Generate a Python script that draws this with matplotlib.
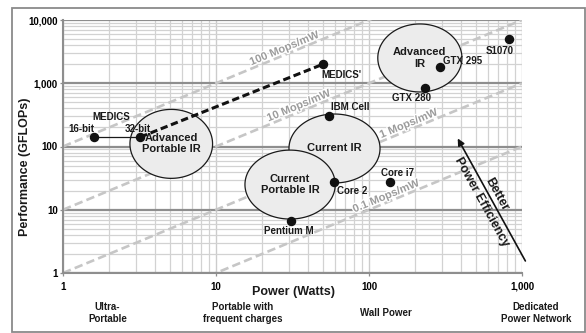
import numpy as np
import matplotlib
matplotlib.use("Agg")
import matplotlib.pyplot as plt
from matplotlib.patches import Rectangle
from matplotlib.transforms import blended_transform_factory
import matplotlib.patheffects as pe

plt.rcParams['font.family'] = ['Liberation Sans', 'DejaVu Sans']
plt.rcParams['font.weight'] = 'bold'

# ---- data -------------------------------------------------------------
point_names = ["16-bit", "32-bit", "MEDICS'", "S1070", "GTX 295", "GTX 280",
               "IBM Cell", "Core 2", "Core i7", "Pentium M"]
point_watts = [1.6, 3.2, 50, 820, 289, 232, 55, 59, 137, 31]
point_gflops = [141, 141, 2000, 4950, 1800, 845, 300, 27, 27, 6.7]
# label offsets (pixels) from each point
label_dx = [-13, -3, 18, -9, 23, -13, 21, 18, 8, -2]
label_dy = [8, 8, -11, -12, 6, -10, 9, -9, 9, -10]

region_names = ["Advanced\nPortable IR", "Current IR", "Current\nPortable IR", "Advanced\nIR"]
region_watts = [5.1, 59.5, 30.5, 215]
region_gflops = [110, 93, 25, 2510]
region_w_dec = [0.54, 0.595, 0.59, 0.55]   # ellipse width in decades
region_h_dec = [1.09, 1.09, 1.09, 1.075]   # ellipse height in decades

efficiency_mops = [100, 10, 1, 0.1]          # Mops/mW = GFLOPs per W
efficiency_label_x = [29, 36, 188, 134]

x_ticks = [1, 10, 100, 1000]
x_ticklabels = ["1", "10", "100", "1,000"]
y_ticks = [1, 10, 100, 1000, 10000]
y_ticklabels = ["1", "10", "100", "1,000", "10,000"]

categories = ["Ultra-\nPortable", "Portable with\nfrequent charges", "Wall Power",
              "Dedicated\nPower Network"]
category_x = [1.95, 15, 128, 1230]

# ---- figure -----------------------------------------------------------
W, H = 586, 333
fig = plt.figure(figsize=(W / 100, H / 100), dpi=100)
ax = fig.add_axes([63 / W, 60 / H, 459 / W, 253 / H])
ax.set_xscale('log')
ax.set_yscale('log')
ax.set_xlim(1, 1000)
ax.set_ylim(1, 10000)

# outer frame
fig.patches.append(Rectangle((12 / W, 1 - 332 / H), (585 - 12) / W, (332 - 8) / H,
                             transform=fig.transFigure, fill=False,
                             ec='#8a8a8a', lw=1.3))

# grid
ax.set_axisbelow(True)
ax.grid(which='minor', axis='both', color='#d2d2d2', lw=0.9)
ax.grid(which='major', axis='x', color='#cccccc', lw=1.0)
ax.grid(which='major', axis='y', color='#8e8e8e', lw=1.6)
for s in ['top', 'right']:
    ax.spines[s].set_visible(False)
for s in ['left', 'bottom']:
    ax.spines[s].set_color('#8e8e8e')
    ax.spines[s].set_linewidth(1.5)

ax.set_xticks(x_ticks)
ax.set_xticklabels(x_ticklabels)
ax.set_yticks(y_ticks)
ax.set_yticklabels(y_ticklabels)
ax.tick_params(which='major', length=2.2, width=0.9, color='#8e8e8e',
               labelsize=7)
ax.tick_params(axis='x', which='major', pad=4)
ax.tick_params(axis='y', which='major', pad=1.5)
ax.tick_params(which='minor', length=0)
ax.xaxis.set_minor_formatter(matplotlib.ticker.NullFormatter())
ax.yaxis.set_minor_formatter(matplotlib.ticker.NullFormatter())

# efficiency lines
xs = np.array([1, 1000.0])
for m in efficiency_mops:
    ax.plot(xs, m * xs, color='#c6c6c6', lw=1.9, dashes=(3.2, 1.6), zorder=1,
            solid_capstyle='butt')

# rotation of a constant-efficiency line in display space
fig.canvas.draw()
p0 = ax.transData.transform((1, 1))
p1 = ax.transData.transform((10, 10))
ang = np.degrees(np.arctan2(p1[1] - p0[1], p1[0] - p0[0]))
nx, ny = -np.sin(np.radians(ang)), np.cos(np.radians(ang))
for m, lx in zip(efficiency_mops, efficiency_label_x):
    lbl = ("%g Mops/mW" % m)
    ax.annotate(lbl, xy=(lx, m * lx), xytext=(nx * 6, ny * 6),
                textcoords='offset pixels', ha='center', va='center',
                rotation=ang, rotation_mode='anchor', fontsize=8,
                color='#9c9c9c', fontweight='bold', zorder=1.5,
                path_effects=[pe.withStroke(linewidth=2, foreground='white')])

# regions
t = np.linspace(0, 2 * np.pi, 300)
z_order = {"Current IR": 2.0, "Current\nPortable IR": 2.2}
for name, cx, cy, w, h in zip(region_names, region_watts, region_gflops,
                              region_w_dec, region_h_dec):
    lx = np.log10(cx) + w / 2 * np.cos(t)
    ly = np.log10(cy) + h / 2 * np.sin(t)
    z = z_order.get(name, 2.0)
    ax.fill(10 ** lx, 10 ** ly, facecolor='#ececec', edgecolor='#1a1a1a',
            lw=0.9, zorder=z)
    ax.text(cx, cy, name, ha='center', va='center', fontsize=8,
            fontweight='bold', color='#1a1a1a', zorder=z + 0.05,
            linespacing=1.15)

# MEDICS 16-bit to 32-bit, then projected MEDICS'
ax.plot(point_watts[:2], point_gflops[:2], color='#1a1a1a', lw=0.9, zorder=3)
ax.plot([point_watts[1], point_watts[2]], [point_gflops[1], point_gflops[2]],
        color='#111111', lw=2.2, dashes=(2.4, 1.2), zorder=3)
ax.annotate("MEDICS", xy=(point_watts[0], point_gflops[0]), xytext=(17, 20),
            textcoords='offset pixels', ha='center', va='center', fontsize=7,
            fontweight='bold', color='#1a1a1a', zorder=5)

ax.plot(point_watts, point_gflops, 'o', color='#111111', ms=5.8, zorder=4,
        clip_on=False)
for name, x, y, dx, dy in zip(point_names, point_watts, point_gflops,
                              label_dx, label_dy):
    ax.annotate(name, xy=(x, y), xytext=(dx, dy), textcoords='offset pixels',
                ha='center', va='center', fontsize=7, fontweight='bold',
                color='#1a1a1a', zorder=5)

# better power efficiency arrow
ax.annotate('', xy=(380, 134), xytext=(1052, 1.55),
            arrowprops=dict(arrowstyle='-|>', color='#111111', lw=1.2,
                            mutation_scale=10, shrinkA=0, shrinkB=0),
            annotation_clip=False, zorder=5)
ax.text(684, 17.8, "Better", rotation=-61, ha='center', va='center',
        rotation_mode='anchor', fontsize=9, fontweight='bold', color='#1a1a1a',
        zorder=5)
ax.text(546, 13.3, "Power Efficiency", rotation=-61, ha='center', va='center',
        rotation_mode='anchor', fontsize=9, fontweight='bold', color='#1a1a1a',
        zorder=5)

# axis titles
fig.text(293 / W, 1 - 292 / H, "Power (Watts)", ha='center', va='center',
         fontsize=9, fontweight='bold', color='#1a1a1a')
fig.text(25 / W, 1 - 167 / H, "Performance (GFLOPs)", ha='center', va='center',
         rotation=90, fontsize=9, fontweight='bold', color='#1a1a1a')

trans = blended_transform_factory(ax.transData, fig.transFigure)
for name, cx in zip(categories, category_x):
    ax.text(cx, 1 - 313 / H, name, transform=trans, ha='center', va='center',
            fontsize=7, fontweight='bold', color='#1a1a1a', linespacing=1.2,
            clip_on=False)

fig.savefig("out.png", dpi=100, facecolor='white')
